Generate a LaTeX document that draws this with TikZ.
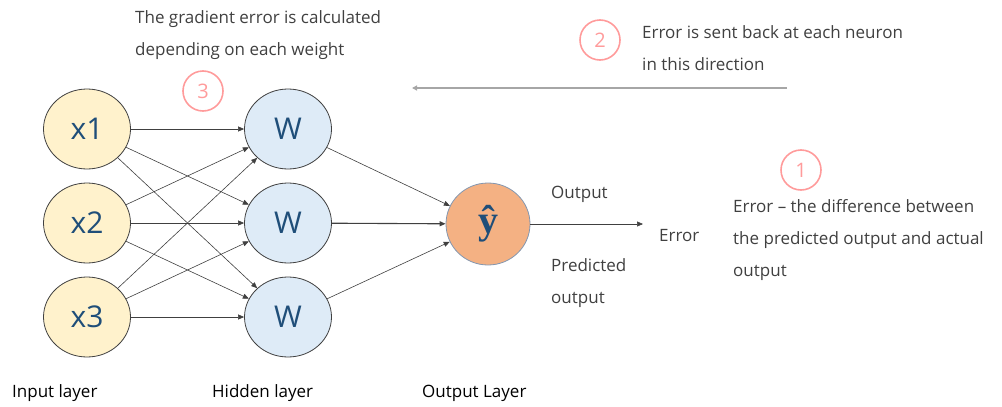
\documentclass[tikz,border=0pt]{standalone}
\usepackage{fontspec}
\setmainfont{Open Sans}
\newfontfamily\yhatfont{Liberation Serif}
\usetikzlibrary{shapes.geometric,arrows.meta}
\definecolor{txt}{HTML}{404040}
\definecolor{lbl}{HTML}{1F4E79}
\definecolor{inFill}{HTML}{FFF2CC}
\definecolor{hidFill}{HTML}{DEEBF7}
\definecolor{outFill}{HTML}{F4B183}
\definecolor{outEdge}{HTML}{8497B0}
\definecolor{mark}{HTML}{FF9B9B}
\definecolor{back}{HTML}{A6A6A6}
\tikzset{
  neuron/.style={ellipse, draw=txt, line width=0.8pt, minimum width=87pt, minimum height=80pt,
    inner sep=0pt, font=\fontsize{30}{34}\selectfont, text=lbl},
  inputn/.style={neuron, fill=inFill},
  hiddenn/.style={neuron, fill=hidFill},
  outputn/.style={ellipse, draw=outEdge, line width=0.8pt, fill=outFill, minimum width=84pt, minimum height=82pt, inner sep=0pt, text=lbl,
    font=\yhatfont\bfseries\fontsize{40}{42}\selectfont},
  link/.style={draw=txt, line width=0.6pt, -{Triangle[length=6pt,width=5pt]}},
  stepmark/.style={circle, draw=mark, line width=1.6pt, minimum size=40pt, inner sep=0pt,
    text=mark, font=\fontsize{20}{24}\selectfont},
  note/.style={text=txt, font=\fontsize{17}{32}\selectfont, align=left, anchor=north west, inner sep=0pt},
  plain/.style={text=txt, font=\fontsize{17}{20}\selectfont, anchor=west, inner sep=0pt},
  layer/.style={text=black, font=\fontsize{17}{20}\selectfont, anchor=west, inner sep=0pt},
}
\begin{document}
\begin{tikzpicture}[x=1pt,y=-1pt]
\useasboundingbox (0,0) rectangle (1002,407);

% input layer
\node[inputn] (x1) at (87,129) {x1};
\node[inputn] (x2) at (87,223) {x2};
\node[inputn] (x3) at (87,317) {x3};

% hidden layer
\node[hiddenn] (w1) at (288,129) {W};
\node[hiddenn] (w2) at (288,223) {W};
\node[hiddenn] (w3) at (288,317) {W};

% output neuron
\node[outputn] (y) at (488,224) {\raisebox{4pt}{ŷ}};

% input -> hidden connections
\foreach \i in {1,2,3}{
  \foreach \j in {1,2,3}{
    \draw[link] (x\i) -- (w\j);
  }
}

% hidden -> output connections
\draw[link] (w1) -- (y);
\draw[link, line width=1.1pt] (w2) -- (y);
\draw[link] (w3) -- (y);

% output error arrow
\coordinate (errend) at (643,224);
\draw[link] (y) -- (errend);
\node[plain] (outlbl) at (551,194) {Output};
\node[note, anchor=west] (predlbl) at (551,283) {Predicted\\output};
\node[plain] (errlbl) at (659,236) {Error};

% step 1
\node[stepmark] (s1) at (801,170) {1};
\node[note] (n1) at (733,199) {Error -- the difference between\\the predicted output and actual\\output};

% step 2 and backward arrow
\node[stepmark] (s2) at (600,40) {2};
\node[note] (n2) at (642,25) {Error is sent back at each neuron\\in this direction};
\coordinate (bstart) at (787,88);
\coordinate (bend) at (412,88);
\draw[draw=back, line width=1.2pt, -{Triangle[length=5pt,width=5pt]}] (bstart) -- (bend);

% step 3
\node[stepmark] (s3) at (203,91) {3};
\node[note] (n3) at (135,10) {The gradient error is calculated\\depending on each weight};

% layer captions
\node[layer] (l1) at (12,393) {Input layer};
\node[layer] (l2) at (212,393) {Hidden layer};
\node[layer] (l3) at (422,393) {Output Layer};
\end{tikzpicture}
\end{document}
